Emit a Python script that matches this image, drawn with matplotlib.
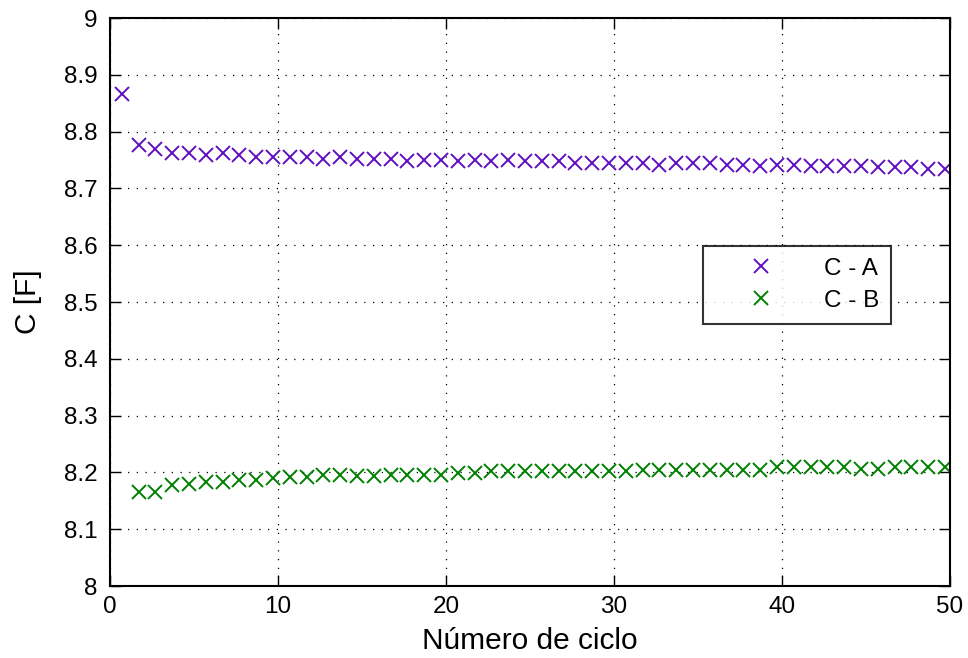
import numpy as np
import matplotlib
matplotlib.use("Agg")
import matplotlib.pyplot as plt
from matplotlib.ticker import FuncFormatter

# -----------------------------
# Capacitance per cycle
# -----------------------------
cycles_a = np.arange(1, 51) - 0.3
cap_a = [
    8.867, 8.777, 8.770, 8.762, 8.762, 8.758, 8.762, 8.758, 8.755, 8.755,
    8.755, 8.755, 8.752, 8.755, 8.752, 8.752, 8.752, 8.748, 8.750, 8.750,
    8.748, 8.750, 8.748, 8.750, 8.748, 8.748, 8.748, 8.745, 8.745, 8.745,
    8.745, 8.745, 8.742, 8.745, 8.745, 8.745, 8.742, 8.742, 8.740, 8.742,
    8.742, 8.740, 8.740, 8.740, 8.740, 8.738, 8.738, 8.738, 8.735, 8.735,
]

cycles_b = np.arange(2, 51) - 0.3
cap_b = [
    8.165, 8.165, 8.178, 8.180, 8.183, 8.183, 8.186, 8.186, 8.190, 8.192,
    8.192, 8.196, 8.196, 8.193, 8.193, 8.196, 8.196, 8.196, 8.196, 8.199,
    8.199, 8.202, 8.202, 8.202, 8.202, 8.202, 8.202, 8.202, 8.202, 8.202,
    8.205, 8.205, 8.205, 8.205, 8.205, 8.205, 8.205, 8.205, 8.209, 8.209,
    8.209, 8.209, 8.209, 8.206, 8.206, 8.209, 8.209, 8.209, 8.209,
]

COLOR_A = "#6010c0"
COLOR_B = "#008000"

plt.rcParams["font.family"] = ["Liberation Sans", "DejaVu Sans"]

fig = plt.figure(figsize=(9.68, 6.58), dpi=100)
ax = fig.add_axes([0.1136, 0.1094, 0.8678, 0.8632])

ax.plot(cycles_a, cap_a, linestyle="none", marker="x", color=COLOR_A,
        markersize=10, markeredgewidth=1.4, label="C - A")
ax.plot(cycles_b, cap_b, linestyle="none", marker="x", color=COLOR_B,
        markersize=10, markeredgewidth=1.4, label="C - B")

ax.set_xlim(0, 50)
ax.set_ylim(8, 9)
ax.set_xticks(np.arange(0, 51, 10))
ax.set_yticks(np.arange(8, 9.01, 0.1))
ax.yaxis.set_major_formatter(FuncFormatter(lambda v, p: f"{v:g}" if abs(v - round(v)) < 1e-9 else f"{v:.1f}"))

ax.grid(True, linestyle=(0, (1, 6)), color="black", linewidth=0.9)
ax.tick_params(direction="in", length=8, width=1, labelsize=17.5,
               top=True, right=True)
ax.tick_params(axis="x", pad=7)
ax.tick_params(axis="y", pad=9)
for spine in ax.spines.values():
    spine.set_linewidth(1.5)

ax.set_xlabel("Número de ciclo", fontsize=21.5, labelpad=7)
ax.set_ylabel("C [F]", fontsize=21.5, labelpad=16)

leg = ax.legend(loc="upper left", bbox_to_anchor=(0.706, 0.599),
                borderaxespad=0, fontsize=17.5, frameon=True, fancybox=False,
                edgecolor="black", borderpad=0.5, labelspacing=0.4,
                handlelength=3.8, handletextpad=0.66)
leg.get_frame().set_linewidth(1.5)

fig.savefig("out.png", dpi=100)
